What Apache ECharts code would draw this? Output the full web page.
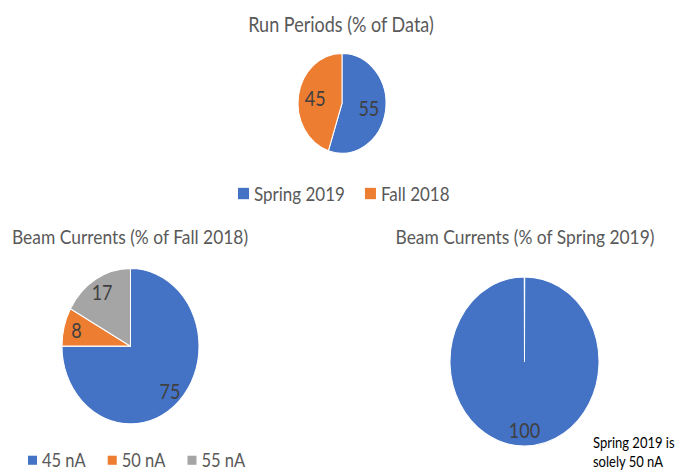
<!DOCTYPE html>
<html>
<head>
<meta charset="utf-8">
<script src="https://cdn.jsdelivr.net/npm/echarts@6/dist/echarts.min.js"></script>
<style>
  html, body { margin: 0; padding: 0; background: #fff; }
  html { overflow: hidden; }
  body { width: 676px; height: 471px; overflow: hidden; }
  /* the chart is drawn on a shorter canvas and stretched vertically,
     so the pies come out as slightly tall ellipses */
  #chart { width: 676px; height: 414px; transform: scaleY(1.135); transform-origin: 0 0; }
</style>
</head>
<body>
<div id="chart"></div>
<script>
// Share of data per run period
const runPeriods = ['Spring 2019', 'Fall 2018'];
const runShares = [55, 45];

// Beam currents during Fall 2018
const fallCurrents = ['45 nA', '50 nA', '55 nA'];
const fallShares = [75, 8, 17];

// Beam currents during Spring 2019
const springCurrents = ['50 nA'];
const springShares = [100];

const BLUE = '#4472C4', ORANGE = '#ED7D31', GREY = '#A5A5A5';
const FONT = 'Lato, "Open Sans", sans-serif';
const TEXT = '#595959', LABEL = '#404040';

function toData(names, values, colors) {
  return names.map((n, i) => ({
    name: n,
    value: values[i],
    itemStyle: colors ? { color: colors[i] } : undefined
  }));
}

// Filled pie (no labels)
function pie(names, values, colors, center, r, extra) {
  return Object.assign({
    type: 'pie',
    center: center,
    radius: [0, r],
    startAngle: 90,
    clockwise: true,
    data: toData(names, values, colors),
    label: { show: false },
    labelLine: { show: false },
    itemStyle: { borderColor: '#fff', borderWidth: 1 },
    emphasis: { scale: false }
  }, extra || {});
}

// Transparent ring carrying the value labels at the wanted depth
function labels(names, values, center, r, depth) {
  const r0 = Math.max(0, 2 * depth - 1) * r;
  return {
    type: 'pie',
    center: center,
    radius: [r0, r],
    startAngle: 90,
    clockwise: true,
    silent: true,
    legendHoverLink: false,
    data: toData(names, values),
    itemStyle: { color: 'rgba(0,0,0,0)' },
    label: {
      show: true,
      position: 'inside',
      formatter: '{c}',
      color: LABEL,
      fontFamily: FONT,
      fontSize: 18
    },
    labelLine: { show: false },
    emphasis: { disabled: true }
  };
}

const topC = [342, 91], topR = 44;
const leftC = [130.5, 305], leftR = 68.5;
const rightC = [524.5, 318.5], rightR = 74.5;

const titleStyle = { color: TEXT, fontFamily: FONT, fontSize: 18, fontWeight: 'normal', lineHeight: 22 };
const subTitleStyle = Object.assign({}, titleStyle, { fontSize: 17.4 });
const legendText = { color: TEXT, fontFamily: FONT, fontSize: 17, lineHeight: 14 };

const option = {
  animation: false,
  backgroundColor: '#fff',
  title: [
    { text: 'Run Periods (% of Data)', left: 341, top: 10, textAlign: 'center', padding: 0, textStyle: titleStyle },
    { text: 'Beam Currents (% of Fall 2018)', left: 12, top: 197, padding: 0, textStyle: subTitleStyle },
    { text: 'Beam Currents (% of Spring 2019)', left: 525, top: 197, textAlign: 'center', padding: 0, textStyle: subTitleStyle },
    {
      text: 'Spring 2019 is\nsolely 50 nA', left: 593, top: 381, padding: 0,
      textStyle: { color: '#000', fontFamily: FONT, fontSize: 13, fontWeight: 'normal', lineHeight: 17 }
    }
  ],
  legend: [
    {
      data: runPeriods, left: 238, top: 162, padding: 0, itemGap: 20,
      itemWidth: 11, itemHeight: 10, icon: 'rect',
      itemStyle: { borderWidth: 0 },
      textStyle: legendText,
      selectedMode: false
    },
    {
      data: fallCurrents, left: 28, top: 397, padding: 0, itemGap: 22,
      itemWidth: 9, itemHeight: 8, icon: 'rect',
      itemStyle: { borderWidth: 0 },
      textStyle: Object.assign({}, legendText, { fontSize: 16.5 }),
      selectedMode: false
    }
  ],
  series: [
    pie(runPeriods, runShares, [BLUE, ORANGE], topC, topR),
    pie(fallCurrents, fallShares, [BLUE, ORANGE, GREY], leftC, leftR),
    pie(springCurrents, springShares, [BLUE], rightC, rightR, { padAngle: 0.4 }),
    labels(runPeriods, runShares, topC, topR, 0.55),
    labels(fallCurrents, fallShares, leftC, leftR, 0.77),
    labels(springCurrents, springShares, rightC, rightR, 0.77)
  ]
};

const chart = echarts.init(document.getElementById('chart'), null, { renderer: 'svg' });
chart.setOption(option);
</script>
</body>
</html>
